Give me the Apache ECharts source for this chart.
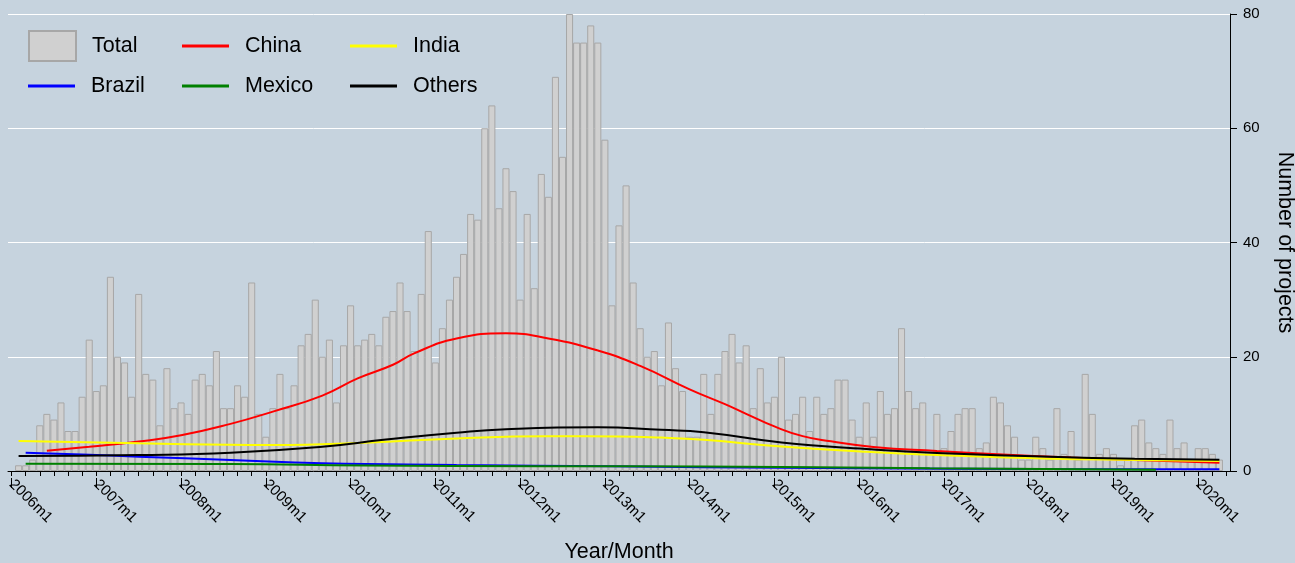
<!DOCTYPE html>
<html>
<head>
<meta charset="utf-8">
<script src="https://cdn.jsdelivr.net/npm/echarts@6/dist/echarts.min.js"></script>
<style>
html,body{margin:0;padding:0;background:#c6d3de;}
#chart{width:1295px;height:563px;}
</style>
</head>
<body>
<div id="chart"></div>
<script>
// ---- categories: monthly, 2006m1 .. 2020m5 ----
const startYear = 2006;
const monthCount = 173;

// ---- Total projects per month (index 0 = 2006m1) ----
const totalProjects = [
  null, 1, 1, 2, 8, 10, 9, 12, 7, 7, 13, 23,          // 2006
  14, 15, 34, 20, 19, 13, 31, 17, 16, 8, 18, 11,       // 2007
  12, 10, 16, 17, 15, 21, 11, 11, 15, 13, 33, 10,      // 2008
  6, 11, 17, 11, 15, 22, 24, 30, 20, 23, 12, 22,       // 2009
  29, 22, 23, 24, 22, 27, 28, 33, 28, 21, 31, 42,      // 2010
  19, 25, 30, 34, 38, 45, 44, 60, 64, 46, 53, 49,      // 2011
  30, 45, 32, 52, 48, 69, 55, 80, 75, 75, 78, 75,      // 2012
  58, 29, 43, 50, 33, 25, 20, 21, 15, 26, 18, 14,      // 2013
  6, 6, 17, 10, 17, 21, 24, 19, 22, 11, 18, 12,        // 2014
  13, 20, 9, 10, 13, 7, 13, 10, 11, 16, 16, 9,         // 2015
  6, 12, 6, 14, 10, 11, 25, 14, 11, 12, 3, 10,         // 2016
  4, 7, 10, 11, 11, 4, 5, 13, 12, 8, 6, 2,             // 2017
  2, 6, 4, 2, 11, 3, 7, 2, 17, 10, 3, 4,               // 2018
  3, 1, 2, 8, 9, 5, 4, 3, 9, 4, 5, 2,                  // 2019
  4, 4, 3, 2                                           // 2020
];

// ---- smoothed country curves, read at selected months (index from 2006m1) ----
const chinaMonths = [5, 11, 18, 24, 31, 37, 44, 49, 54, 57, 63, 70, 76, 83, 89, 96, 101, 104, 108, 112, 116, 122, 131, 141, 150, 160, 171];
const chinaValues = [3.55, 4.25, 5.15, 6.25, 8.25, 10.4, 13.2, 16.2, 18.6, 20.6, 23.2, 24.1, 23.2, 21.1, 18.4, 14.3, 11.7, 10.0, 7.8, 6.1, 5.2, 4.2, 3.5, 2.85, 2.35, 1.9, 1.45];

const indiaMonths = [1, 18, 37, 50, 63, 76, 86, 92, 98, 109, 121, 131, 147, 159, 171];
const indiaValues = [5.25, 4.84, 4.55, 4.95, 5.7, 6.07, 6.05, 5.85, 5.45, 4.3, 3.35, 2.8, 2.15, 1.93, 1.75];

const brazilMonths = [2, 10, 18, 31, 44, 63, 85, 98, 120, 145, 171];
const brazilValues = [3.2, 2.9, 2.5, 1.93, 1.34, 1.05, 0.82, 0.65, 0.5, 0.35, 0.3];

const mexicoMonths = [2, 31, 50, 75, 98, 130, 162];
const mexicoValues = [1.28, 1.22, 0.95, 0.85, 0.8, 0.47, 0.2];

const othersMonths = [1, 18, 31, 44, 53, 63, 70, 83, 92, 98, 109, 121, 131, 147, 159, 171];
const othersValues = [2.63, 2.8, 3.2, 4.26, 5.5, 6.7, 7.3, 7.64, 7.2, 6.8, 5.0, 3.85, 3.15, 2.5, 2.15, 1.98];

// ---- axis ticks ----
const yTicks = [0, 20, 40, 60, 80];

// build helpers
const months = [];
for (let i = 0; i < monthCount; i++) {
  months.push((startYear + Math.floor(i / 12)) + 'm' + (i % 12 + 1));
}
function sparse(idx, vals) {
  const arr = new Array(monthCount).fill(null);
  idx.forEach((m, i) => { arr[m] = vals[i]; });
  return arr;
}

const font = "'Liberation Sans', Arial, Helvetica, sans-serif";
const bigFont = 21.5;
const chart = echarts.init(document.getElementById('chart'), null, {renderer: 'canvas'});

function lineSeries(name, color, data) {
  return {
    name: name, type: 'line', data: data, smooth: 0.5, connectNulls: true,
    symbol: 'none', showSymbol: false, animation: false,
    lineStyle: {color: color, width: 2}, itemStyle: {color: color}, z: 3
  };
}
function lineLegend(name, left, top) {
  return {
    left: left, top: top, padding: 0, itemWidth: 47, itemHeight: 3, selectedMode: false,
    data: [{name: name, icon: 'rect'}],
    textStyle: {fontSize: bigFont, color: '#000', fontFamily: font, padding: [0, 0, 0, 11]}
  };
}

chart.setOption({
  backgroundColor: '#c6d3de',
  animation: false,
  textStyle: {fontFamily: font},
  grid: {left: 8, top: 14, width: 1222, height: 457, containLabel: false, outerBoundsMode: 'none'},
  legend: [
    {left: 28, top: 30, padding: 0, itemWidth: 47, itemHeight: 30, selectedMode: false,
     data: [{name: 'Total', icon: 'rect'}],
     textStyle: {fontSize: bigFont, color: '#000', fontFamily: font, padding: [0, 0, 0, 11]}},
    lineLegend('China', 182, 35),
    lineLegend('India', 350, 35),
    lineLegend('Brazil', 28, 75),
    lineLegend('Mexico', 182, 75),
    lineLegend('Others', 350, 75)
  ],
  xAxis: [
    {
      type: 'category', data: months, boundaryGap: true, position: 'bottom', offset: 7,
      axisLine: {show: true, lineStyle: {color: '#000', width: 1}},
      axisTick: {show: true, interval: 1, alignWithLabel: true, length: 5, lineStyle: {color: '#000'}},
      axisLabel: {show: false},
      splitLine: {show: false}
    },
    {
      type: 'category', data: months, boundaryGap: true, position: 'bottom', offset: 7,
      axisLine: {show: false},
      axisTick: {show: true, interval: 11, alignWithLabel: true, length: 10, lineStyle: {color: '#000'}},
      axisLabel: {show: true, interval: 11, rotate: -45, fontSize: 15, color: '#000', margin: 4,
                  fontFamily: font},
      splitLine: {show: false},
      name: 'Year/Month', nameLocation: 'middle', nameGap: 63,
      nameTextStyle: {fontSize: bigFont, color: '#000', fontFamily: font}
    }
  ],
  yAxis: {
    type: 'value', position: 'right', min: yTicks[0], max: yTicks[yTicks.length - 1], interval: 20,
    axisLine: {show: true, lineStyle: {color: '#000', width: 1}},
    axisTick: {show: true, length: 7, lineStyle: {color: '#000'}},
    axisLabel: {fontSize: 15, color: '#000', margin: 13, fontFamily: font},
    splitLine: {show: true, lineStyle: {color: '#ffffff', width: 1}},
    name: 'Number of projects', nameLocation: 'middle', nameRotate: -90, nameGap: 44,
    nameTextStyle: {fontSize: bigFont, color: '#000', fontFamily: font}
  },
  series: [
    {
      name: 'Total', type: 'bar', data: totalProjects, barCategoryGap: '0%', barGap: '0%',
      itemStyle: {color: '#d0d0d0', borderColor: '#a7a7a7', borderWidth: 1}, z: 2
    },
    lineSeries('China', '#ff0000', sparse(chinaMonths, chinaValues)),
    lineSeries('India', '#ffff00', sparse(indiaMonths, indiaValues)),
    lineSeries('Brazil', '#0000ff', sparse(brazilMonths, brazilValues)),
    lineSeries('Mexico', '#008000', sparse(mexicoMonths, mexicoValues)),
    lineSeries('Others', '#000000', sparse(othersMonths, othersValues))
  ]
});
</script>
</body>
</html>
